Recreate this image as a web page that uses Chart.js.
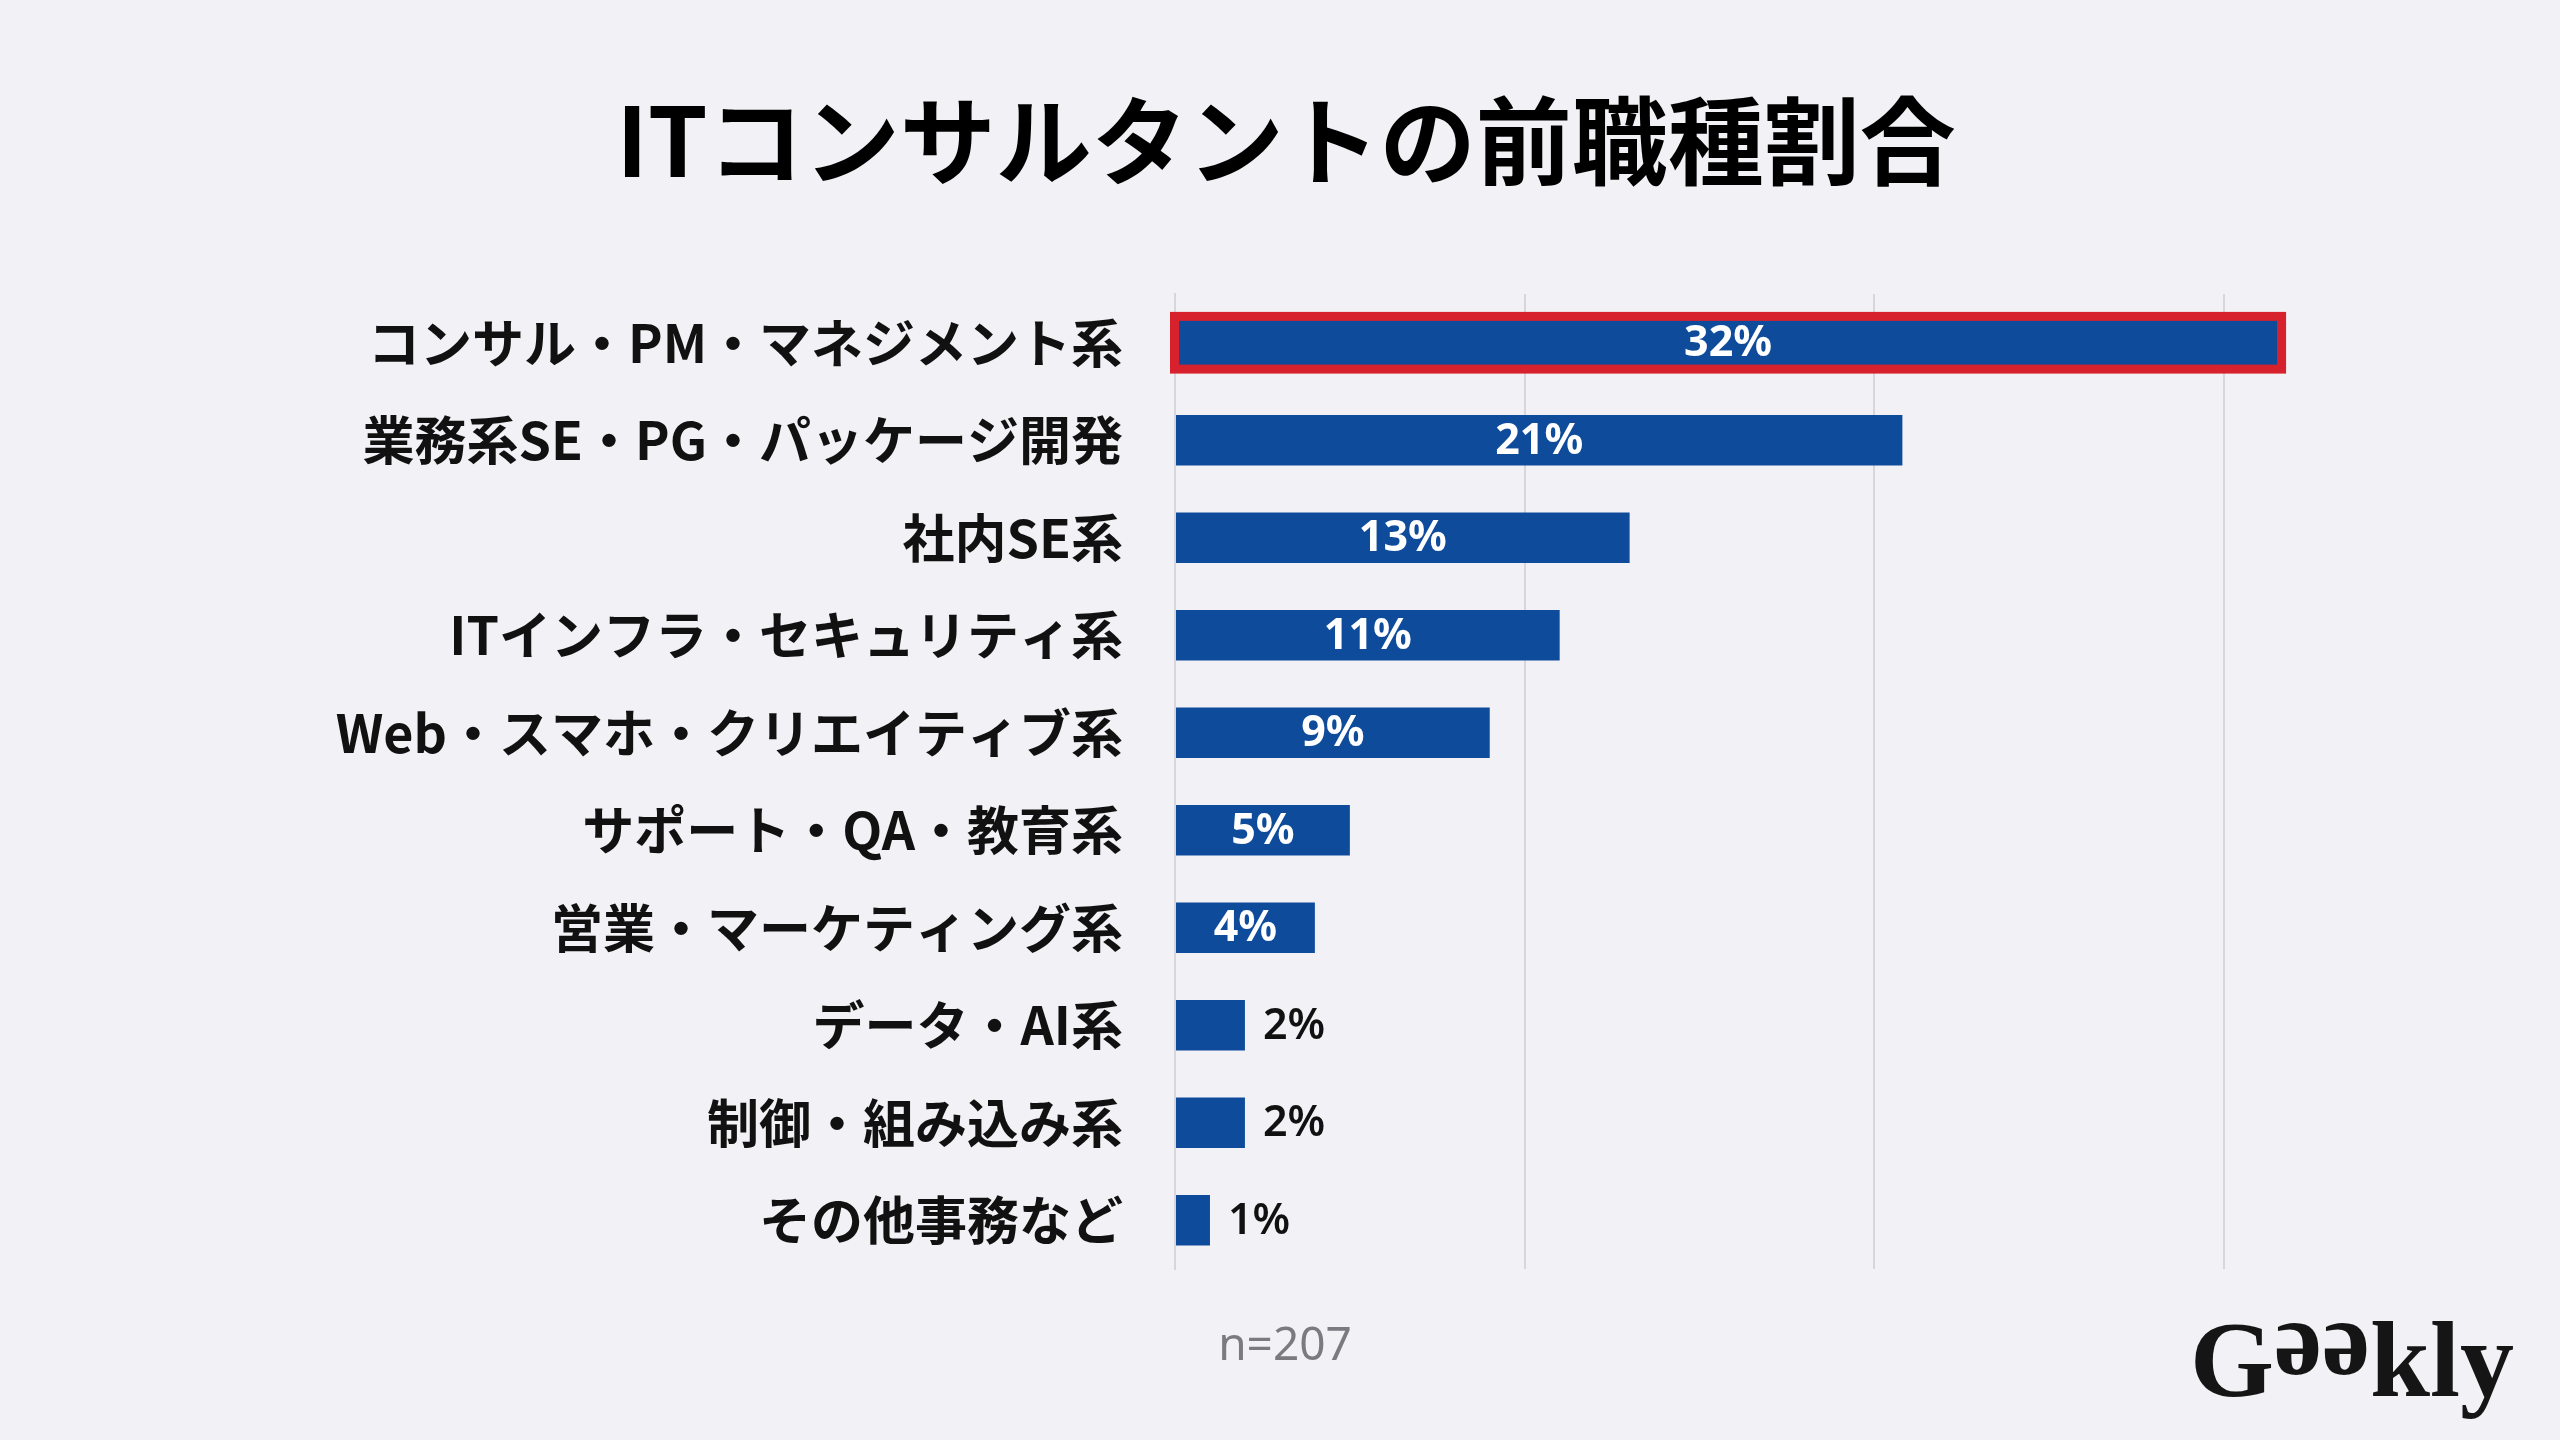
<!DOCTYPE html>
<html><head><meta charset="utf-8">
<script src="https://cdn.jsdelivr.net/npm/chart.js@4.4.1/dist/chart.umd.min.js"></script>
<style>
html,body{margin:0;padding:0;background:#f2f2f6;}
#wrap{position:relative;width:2560px;height:1440px;overflow:hidden;background:#f2f2f6;}
#c{position:absolute;left:0;top:0;}
#title{position:absolute;left:6px;width:2560px;top:88px;height:96px;line-height:96px;text-align:center;font-family:'Noto Sans CJK JP';font-weight:700;font-size:96px;color:#000;white-space:nowrap;}
#note{position:absolute;left:1185px;width:200px;top:1319px;height:46px;line-height:46px;text-align:center;font-family:'Noto Sans';font-size:46px;color:#7a7a80;}
#logo{position:absolute;left:2190px;top:1306px;height:108px;line-height:108px;font-family:'Liberation Serif';font-weight:700;font-size:108px;color:#151515;white-space:nowrap;}
#logo span.r{display:inline-block;transform:rotate(180deg);}
</style></head>
<body><div id="wrap">
<canvas id="c" width="2560" height="1440"></canvas>
<div id="title">ITコンサルタントの前職種割合</div>
<div id="note">n=207</div>
<div id="logo">G<span class="r">e</span><span class="r">e</span>kly</div>
</div>
<script>
const categories = ['コンサル・PM・マネジメント系','業務系SE・PG・パッケージ開発','社内SE系','ITインフラ・セキュリティ系','Web・スマホ・クリエイティブ系','サポート・QA・教育系','営業・マーケティング系','データ・AI系','制御・組み込み系','その他事務など'];
const values = [31.6, 20.8, 13, 11, 9, 5, 4, 2, 2, 1];
const valueLabels = ['32%', '21%', '13%', '11%', '9%', '5%', '4%', '2%', '2%', '1%'];
const labelInside = [true, true, true, true, true, true, true, false, false, false];
const highlightIndex = 0;

const barColor = '#0e4b9b';
const gridColor = '#d6d6dc';

const labelPlugin = {
  id: 'barLabels',
  afterDatasetsDraw(chart) {
    const ctx = chart.ctx;
    const meta = chart.getDatasetMeta(0);
    const hb = meta.data[highlightIndex];
    if (hb) {
      const p = hb.getProps(['x','y','base','height'], true);
      ctx.save();
      ctx.strokeStyle = '#d7222e';
      ctx.lineWidth = 9;
      ctx.strokeRect(p.base - 1.5, p.y - p.height/2 - 1, (p.x - p.base) + 3, p.height + 2);
      ctx.restore();
    }
    meta.data.forEach((bar, i) => {
      const p = bar.getProps(['x','y','base'], true);
      const text = valueLabels[i];
      ctx.save();
      ctx.textBaseline = 'middle';
      if (labelInside[i]) {
        ctx.font = "700 43px 'Noto Sans'";
        ctx.fillStyle = '#ffffff';
        ctx.textAlign = 'center';
        ctx.fillText(text, (p.x + p.base) / 2, p.y + 1);
      } else {
        ctx.font = "600 43px 'Noto Sans'";
        ctx.fillStyle = '#111111';
        ctx.textAlign = 'left';
        ctx.fillText(text, p.x + 18, p.y + 1);
      }
      ctx.restore();
    });
  }
};

new Chart(document.getElementById('c'), {
  type: 'bar',
  data: {
    labels: categories,
    datasets: [{
      data: values,
      backgroundColor: barColor,
      borderWidth: 0,
      barPercentage: 0.52,
      categoryPercentage: 1.0
    }]
  },
  options: {
    indexAxis: 'y',
    responsive: false,
    animation: false,
    events: [],
    layout: { padding: { top: 294, bottom: 171, left: 0, right: 196 } },
    plugins: { legend: { display: false }, tooltip: { enabled: false }, title: { display: false } },
    scales: {
      x: {
        min: 0, max: 34,
        ticks: { display: false, stepSize: 10 },
        grid: {
          color: c => (c.tick && c.tick.value % 10 === 0) ? gridColor : 'rgba(0,0,0,0)',
          lineWidth: 2, drawTicks: false
        },
        border: { display: false },
        afterFit: s => { s.height = 0; }
      },
      y: {
        ticks: {
          color: '#111111',
          padding: 52,
          font: { family: "'Noto Sans CJK JP'", weight: '700', size: 52 }
        },
        grid: { display: false, drawTicks: false },
        border: { display: true, color: gridColor, width: 2 },
        afterFit: s => { s.width = 1175; }
      }
    }
  },
  plugins: [labelPlugin]
});
</script>
</body></html>
